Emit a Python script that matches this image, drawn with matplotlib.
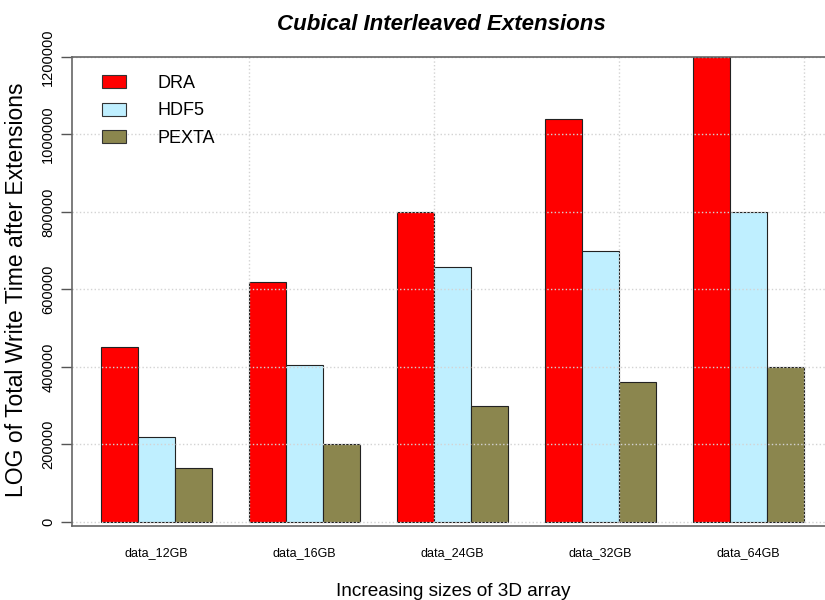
import matplotlib
matplotlib.use("Agg")
import matplotlib.pyplot as plt
from matplotlib.patches import Patch
import numpy as np

plt.rcParams['font.family'] = ['Liberation Sans', 'DejaVu Sans']

# datos
categorias = ['data_12GB', 'data_16GB', 'data_24GB', 'data_32GB', 'data_64GB']
series = ['DRA', 'HDF5', 'PEXTA']
dra = [450000, 620000, 800000, 1040000, 1200000]
hdf5 = [220000, 405000, 657000, 700000, 800000]
pexta = [140000, 200000, 300000, 360000, 400000]
colores = ['#FF0000', '#BFEFFF', '#8B864E']

fig = plt.figure(figsize=(8.25, 6), dpi=100)
ax = fig.add_axes([72 / 825, 74 / 600, 753 / 825, 469 / 600])

# barras al estilo barplot(beside=TRUE) de R
base = 1 + 4 * np.arange(len(categorias))
for j, valores in enumerate([dra, hdf5, pexta]):
    ax.bar(base + j, valores, width=1, align='edge', color=colores[j],
           edgecolor='#222222', linewidth=0.8, zorder=1)

ax.set_xlim(0.216, 20.57)
ax.set_ylim(-11000, 1200000)

ax.set_yticks(np.arange(0, 1200001, 200000))
ax.set_yticklabels([str(v) for v in range(0, 1200001, 200000)], rotation=90,
                   va='center', fontsize=10.5)
ax.set_xticks(base + 1.5)
ax.set_xticklabels(categorias, fontsize=9)
ax.tick_params(axis='x', length=0, pad=15)
ax.tick_params(axis='y', length=8, width=1, color='#555555', pad=4)

# rejilla punteada encima de las barras
for xg in [0, 5, 10, 15, 20]:
    ax.axvline(xg, color='#d3d3d3', linestyle=':', linewidth=1, zorder=2)
for yg in range(0, 1200001, 200000):
    ax.axhline(yg, color='#d3d3d3', linestyle=':', linewidth=1, zorder=2)

for s in ['left', 'top', 'bottom']:
    ax.spines[s].set_color('#666666')
    ax.spines[s].set_linewidth(1.2)
ax.spines['right'].set_visible(False)

fig.text(453 / 825, 1 - 596 / 600, 'Increasing sizes of 3D array',
         ha='center', va='baseline', fontsize=13.7)
fig.text(17 / 825, 1 - 290 / 600, 'LOG of Total Write Time after Extensions',
         rotation=90, ha='center', va='center', fontsize=16.5)
fig.text(441 / 825, 1 - 30 / 600, 'Cubical Interleaved Extensions',
         ha='center', va='baseline', fontsize=16, fontweight='bold', style='italic')

handles = [Patch(facecolor=c, edgecolor='#333333', linewidth=0.8) for c in colores]
ax.legend(handles, series, loc='upper left', bbox_to_anchor=(102 / 825, 1 - 75 / 600),
          bbox_transform=fig.transFigure, frameon=False, fontsize=13,
          handlelength=1.33, handleheight=0.72, handletextpad=1.72, labelspacing=0.58,
          borderaxespad=0, borderpad=0)

fig.savefig('out.png', dpi=100)
plt.close(fig)
